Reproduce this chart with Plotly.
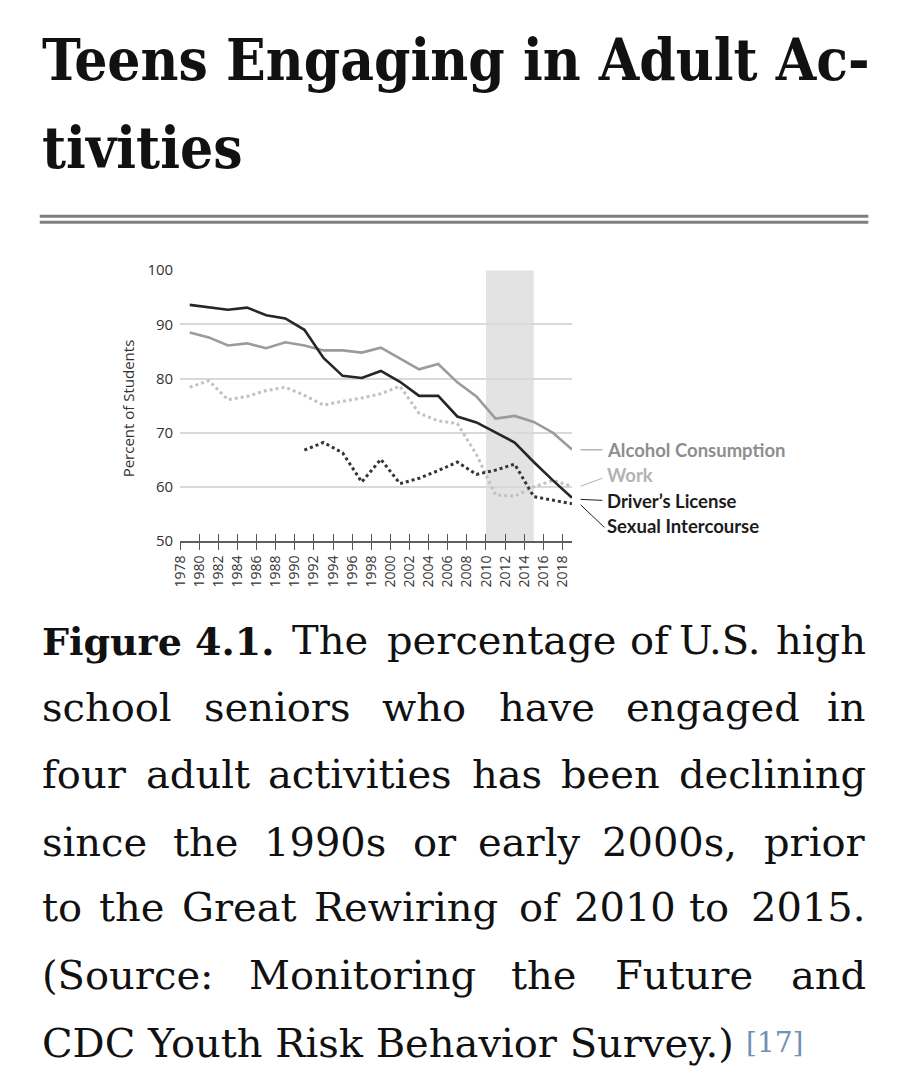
import plotly.graph_objects as go

# ---------------- data ----------------
years = [1979, 1981, 1983, 1985, 1987, 1989, 1991, 1993, 1995, 1997, 1999,
         2001, 2003, 2005, 2007, 2009, 2011, 2013, 2015, 2017, 2019]
alcohol = [88.5, 87.6, 86.1, 86.5, 85.6, 86.7, 86.1, 85.2, 85.2, 84.8, 85.7,
           83.7, 81.7, 82.7, 79.3, 76.7, 72.6, 73.1, 72.0, 70.0, 66.9]
work = [78.4, 79.6, 76.1, 76.7, 77.8, 78.4, 76.9, 75.1, 75.8, 76.4, 77.2,
        78.6, 73.6, 72.2, 71.7, 66.0, 58.5, 58.3, 60.0, 61.2, 60.1]
drivers = [93.6, 93.2, 92.7, 93.1, 91.7, 91.1, 89.0, 83.8, 80.5, 80.1, 81.4,
           79.4, 76.8, 76.8, 73.0, 71.9, 70.1, 68.2, 64.6, 61.2, 58.0]
sex_years = [1991, 1993, 1995, 1997, 1999, 2001, 2003, 2005, 2007, 2009,
             2011, 2013, 2015, 2017, 2019]
sexual = [66.8, 68.2, 66.3, 60.9, 65.1, 60.6, 61.6, 63.0, 64.6, 62.3,
          63.1, 64.2, 58.2, 57.6, 56.9]
x_ticks = list(range(1978, 2019, 2))
y_ticks = [50, 60, 70, 80, 90, 100]
band = [2010, 2015]
series_labels = ["Alcohol Consumption", "Work", "Driver\u2019s License", "Sexual Intercourse"]

title_lines = ["Teens Engaging in Adult Ac-", "tivities"]
caption_lines = [
    ["Figure 4.1.", "The", "percentage", "of", "U.S.", "high"],
    ["school", "seniors", "who", "have", "engaged", "in"],
    ["four", "adult", "activities", "has", "been", "declining"],
    ["since", "the", "1990s", "or", "early", "2000s,", "prior"],
    ["to", "the", "Great", "Rewiring", "of", "2010", "to", "2015."],
    ["(Source:", "Monitoring", "the", "Future", "and"],
]
last_line = "CDC Youth Risk Behavior Survey.)"
footnote = "[17]"

# ---------------- layout helpers (window pixel -> paper) ----------------
# the page keeps the browser's 8px body margin, so the figure is 16px smaller
MARGIN = 8
W, H = 905 - 2 * MARGIN, 1089 - 2 * MARGIN
def px(x):
    return (x - MARGIN) / W
def py(y):
    return 1 - (y - MARGIN) / H

caption_x = [
    [30, 283.5, 379, 625, 674, 868],
    [30, 194, 374, 492, 621, 868],
    [30, 135, 259, 465, 555, 868],
    [30, 163, 254.5, 405, 471.5, 597, 868],
    [30, 88, 172, 305, 513, 568, 685, 868],
    [30, 240, 505, 610, 868],
]
caption_baselines = [657, 725, 793, 862, 929, 998, 1067]

TITLE_FONT = "DejaVu Serif Condensed, DejaVu Serif, serif"
SERIF = "DejaVu Serif, serif"
SANS = "Open Sans, Noto Sans, sans-serif"
LBL = "Lato, Noto Sans, sans-serif"

fig = go.Figure()

fig.add_trace(go.Scatter(x=years, y=work, mode="lines", name=series_labels[1],
                         line=dict(color="#c2c2c2", width=3, dash="3px,3px")))
fig.add_trace(go.Scatter(x=years, y=alcohol, mode="lines", name=series_labels[0],
                         line=dict(color="#9b9b9b", width=2.6)))
fig.add_trace(go.Scatter(x=sex_years, y=sexual, mode="lines", name=series_labels[3],
                         line=dict(color="#343434", width=3, dash="3px,3px")))
fig.add_trace(go.Scatter(x=years, y=drivers, mode="lines", name=series_labels[2],
                         line=dict(color="#262626", width=2.6)))

shapes = []
# 2010-2015 band
shapes.append(dict(type="rect", xref="x", yref="y", x0=band[0], x1=band[1],
                   y0=y_ticks[0], y1=y_ticks[-1], fillcolor="#e3e3e3",
                   line=dict(width=0), layer="below"))
# title double rule
for yy in (209, 215):
    shapes.append(dict(type="line", xref="paper", yref="paper",
                       x0=px(30), x1=px(868), y0=py(yy), y1=py(yy),
                       line=dict(color="#808080", width=3)))
# leader lines
leaders = [((577, 447), (599, 447), "#8e8e8e"),
           ((577, 484), (599, 476), "#b0b0b0"),
           ((577, 497.5), (599, 498.5), "#222222"),
           ((577, 503), (601, 526), "#222222")]
for (a, b, c) in leaders:
    shapes.append(dict(type="line", xref="paper", yref="paper",
                       x0=px(a[0]), y0=py(a[1]), x1=px(b[0]), y1=py(b[1]),
                       line=dict(color=c, width=1)))

annotations = []
# title
TF = 58
for line, base in zip(title_lines, (72, 162)):
    annotations.append(dict(text=line, xref="paper", yref="paper",
                            x=px(30), y=py(base - 0.39 * TF), xanchor="left",
                            yanchor="middle", showarrow=False,
                            font=dict(family=TITLE_FONT, size=TF, color="#111111",
                                      weight="bold")))
# caption (justified lines placed word by word)
CF = 40
for words, xs, base in zip(caption_lines, caption_x, caption_baselines):
    for i, (w, xw) in enumerate(zip(words, xs)):
        last = i == len(words) - 1
        bold = w == "Figure 4.1."
        annotations.append(dict(text=w, xref="paper", yref="paper",
                                x=px(xw), y=py(base - (0.39 * 38 if bold else 0.395 * CF)),
                                xanchor="right" if last else "left",
                                yanchor="middle", showarrow=False,
                                font=dict(family=SERIF, size=38 if bold else CF,
                                          color="#111111",
                                          weight="bold" if bold else "normal")))
# last caption line (left aligned) and footnote reference
annotations.append(dict(text=last_line, xref="paper", yref="paper", x=px(30),
                        y=py(caption_baselines[-1] - 0.395 * CF),
                        xanchor="left", yanchor="middle", showarrow=False,
                        font=dict(family=SERIF, size=CF, color="#111111")))
annotations.append(dict(text=footnote, xref="paper", yref="paper",
                        x=px(742), y=py(1062 - 0.39 * 28), xanchor="left",
                        yanchor="middle", showarrow=False,
                        font=dict(family=SERIF, size=28, color="#7390b3")))
# y axis title
annotations.append(dict(text="Percent of Students", xref="paper", yref="paper",
                        x=px(119), y=py(405), textangle=-90, showarrow=False,
                        xanchor="center", yanchor="middle",
                        font=dict(family=SANS, size=15, color="#333333")))
# series labels
label_colors = ["#8e8e8e", "#b3b3b3", "#1c1c1c", "#1c1c1c"]
label_y = [447, 473, 499, 525]
for t, c, yy in zip(series_labels, label_colors, label_y):
    annotations.append(dict(text=t, xref="paper", yref="paper", x=px(602),
                            y=py(yy), xanchor="left", yanchor="middle",
                            showarrow=False,
                            font=dict(family=LBL, size=18.5, color=c, weight="bold")))

x_dom = [px(172), px(568.3)]
y_dom = [py(540), py(264)]

fig.update_layout(
    width=W, height=H, margin=dict(l=0, r=0, t=0, b=0),
    paper_bgcolor="white", plot_bgcolor="white", showlegend=False,
    shapes=shapes, annotations=annotations,
    xaxis=dict(domain=x_dom, range=[1978, 2019], tickvals=x_ticks,
               ticktext=[str(v) for v in x_ticks], tickangle=-90,
               ticks="outside", ticklen=7, tickwidth=1.3, tickcolor="#555555",
               showline=True, linecolor="#5e5e5e", linewidth=1.5,
               showgrid=False, zeroline=False,
               tickfont=dict(family=SANS, size=14, color="#333333")),
    xaxis2=dict(domain=x_dom, range=[1978, 2019], tickvals=x_ticks,
                overlaying="x", anchor="y", side="bottom",
                ticks="inside", ticklen=7, tickwidth=1.3, tickcolor="#555555",
                showticklabels=False, showgrid=False, zeroline=False,
                showline=False),
    yaxis=dict(domain=y_dom, range=[50, 100], tickvals=y_ticks,
               showgrid=True, gridcolor="#d9d9d9", gridwidth=1.5,
               zeroline=False, showline=False, ticks="",
               ticklabelstandoff=6,
               tickfont=dict(family=SANS, size=15, color="#333333")),
)
fig.add_trace(go.Scatter(x=[band[0]], y=[y_ticks[-1]], xaxis="x2", yaxis="y",
                         mode="markers", marker=dict(opacity=0), hoverinfo="skip",
                         showlegend=False))

fig.write_html("out.html", config={"displayModeBar": False})
